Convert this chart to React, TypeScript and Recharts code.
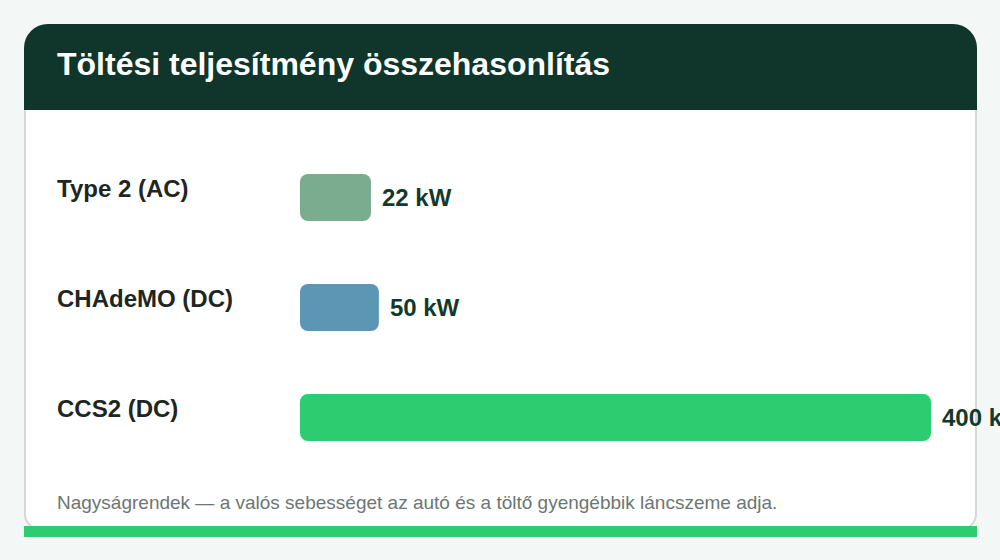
import React from 'react'
import { BarChart, Bar, XAxis, YAxis, Cell, LabelList } from 'recharts'

const CONNECTORS = ['Type 2 (AC)', 'CHAdeMO (DC)', 'CCS2 (DC)']
const POWER_KW = [22, 50, 400]
const BAR_COLORS = ['#7aad8f', '#5b96b5', '#2ecc71']

const FONT = '"Liberation Sans", Arial, sans-serif'

const data = CONNECTORS.map((name, i) => ({ name, kw: POWER_KW[i] }))

// category label on the far left of the card
function ConnectorTick(props: any) {
  const { y, payload } = props
  return (
    <text x={57} y={y} textAnchor="start" fontFamily={FONT} fontSize={24}
      fontWeight={700} fill="#1e2624">
      {payload.value}
    </text>
  )
}

export default function App() {
  return (
    <div style={{ position: 'fixed', inset: 0, width: 1000, height: 560, background: '#f3f7f6', fontFamily: FONT, overflow: 'hidden' }}>
      {/* card */}
      <div style={{
        position: 'absolute', left: 24, top: 24, width: 953, height: 506,
        boxSizing: 'border-box', background: '#ffffff',
        border: '2px solid #d3d9d6', borderRadius: '24px 24px 16px 16px',
      }} />
      {/* header */}
      <div style={{
        position: 'absolute', left: 24, top: 24, width: 953, height: 86,
        background: '#10352a', borderRadius: '24px 24px 0 0',
      }} />
      <div style={{
        position: 'absolute', left: 57, top: 48, fontSize: 32, lineHeight: '32px',
        fontWeight: 700, color: '#ffffff', whiteSpace: 'nowrap',
      }}>
        Töltési teljesítmény összehasonlítás
      </div>

      {/* chart */}
      <div style={{ position: 'absolute', left: 0, top: 0 }}>
        <BarChart width={1000} height={560} data={data} layout="vertical"
          margin={{ top: 142, right: 69, bottom: 88, left: 0 }}>
          <XAxis type="number" domain={[0, 400]} hide />
          <YAxis type="category" dataKey="name" width={300} axisLine={false}
            tickLine={false} tick={<ConnectorTick />} />
          <Bar dataKey="kw" barSize={47} radius={8} minPointSize={71} isAnimationActive={false}>
            {data.map((d, i) => <Cell key={d.name} fill={BAR_COLORS[i]} />)}
            <LabelList dataKey="kw" position="right" offset={11}
              formatter={(v: any) => `${v} kW`}
              style={{ fontFamily: FONT, fontSize: 24, fontWeight: 700, fill: '#123a2c' }} />
          </Bar>
        </BarChart>
      </div>

      {/* footnote */}
      <div style={{
        position: 'absolute', left: 57, top: 493, fontSize: 19, lineHeight: '19px',
        color: '#6c7673', whiteSpace: 'nowrap',
      }}>
        Nagyságrendek — a valós sebességet az autó és a töltő gyengébbik láncszeme adja.
      </div>

      {/* accent strip */}
      <div style={{ position: 'absolute', left: 24, top: 526, width: 953, height: 11, background: '#2ecc71' }} />
    </div>
  )
}
